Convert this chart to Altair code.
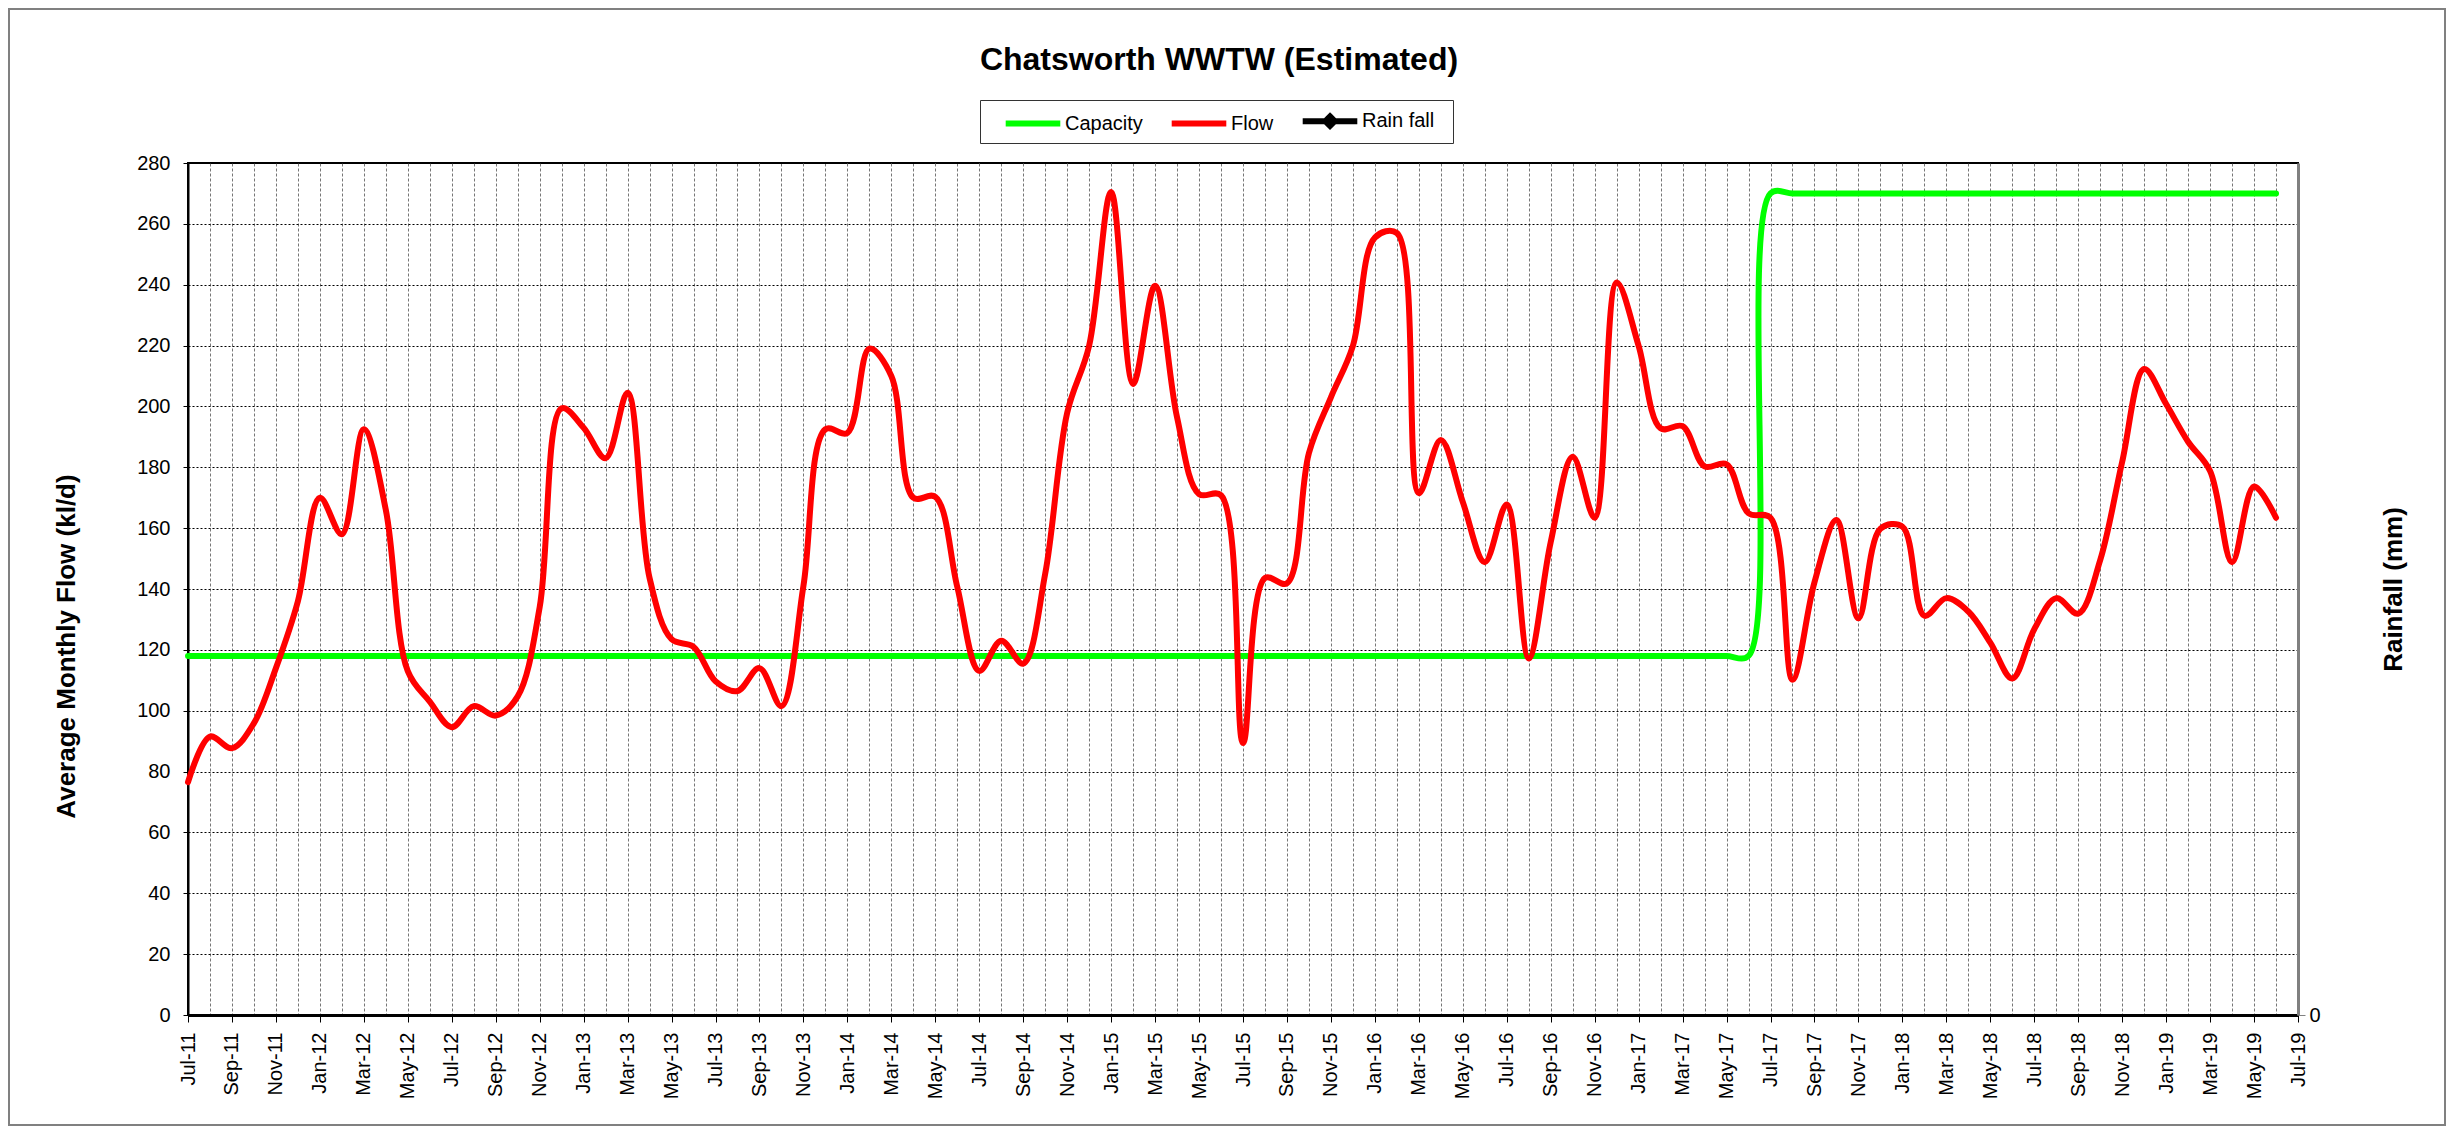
import json
import altair as alt
import pandas as pd

FONT = "Liberation Sans"

month_labels = [
    "Jul-11", "Aug-11", "Sep-11", "Oct-11", "Nov-11", "Dec-11",
    "Jan-12", "Feb-12", "Mar-12", "Apr-12", "May-12", "Jun-12", "Jul-12", "Aug-12", "Sep-12", "Oct-12", "Nov-12", "Dec-12",
    "Jan-13", "Feb-13", "Mar-13", "Apr-13", "May-13", "Jun-13", "Jul-13", "Aug-13", "Sep-13", "Oct-13", "Nov-13", "Dec-13",
    "Jan-14", "Feb-14", "Mar-14", "Apr-14", "May-14", "Jun-14", "Jul-14", "Aug-14", "Sep-14", "Oct-14", "Nov-14", "Dec-14",
    "Jan-15", "Feb-15", "Mar-15", "Apr-15", "May-15", "Jun-15", "Jul-15", "Aug-15", "Sep-15", "Oct-15", "Nov-15", "Dec-15",
    "Jan-16", "Feb-16", "Mar-16", "Apr-16", "May-16", "Jun-16", "Jul-16", "Aug-16", "Sep-16", "Oct-16", "Nov-16", "Dec-16",
    "Jan-17", "Feb-17", "Mar-17", "Apr-17", "May-17", "Jun-17", "Jul-17", "Aug-17", "Sep-17", "Oct-17", "Nov-17", "Dec-17",
    "Jan-18", "Feb-18", "Mar-18", "Apr-18", "May-18", "Jun-18", "Jul-18", "Aug-18", "Sep-18", "Oct-18", "Nov-18", "Dec-18",
    "Jan-19", "Feb-19", "Mar-19", "Apr-19", "May-19", "Jun-19", "Jul-19",
]

# Monthly values, Jul-11 .. Jun-19 (one row per Jul..Jun year)
flow = [
    76.5, 91.5, 87.7, 95.9, 114, 136, 170, 158, 192.5, 166, 113, 103,
    94.6, 101.5, 98.4, 104.7, 134, 199.4, 193, 183, 204.5, 143.6, 123.5, 121,
    109.7, 106.5, 114, 101.5, 141, 192.5, 191.3, 219, 210, 170, 170.3, 140.7,
    113.1, 123, 115.5, 145, 197.9, 220, 270.5, 207.4, 239.7, 196.4, 171.2, 170.8,
    89.4, 143.6, 141.9, 184.7, 203, 219.9, 255.5, 257, 171.5, 189, 168.6, 148.8,
    167.8, 117.2, 155.4, 183.5, 163.4, 240.7, 219.9, 192.8, 193.5, 180.3, 181, 164.9,
    163.4, 110.2, 142.2, 162.7, 130.4, 159.8, 160.5, 131.2, 137, 132.6, 122.4, 110.6,
    126.8, 137, 131.9, 149.5, 181.8, 212.3, 200.8, 188.4, 178.8, 148.8, 173.7, 163.4,
]

capacity = [
    118, 118, 118, 118, 118, 118, 118, 118, 118, 118, 118, 118,
    118, 118, 118, 118, 118, 118, 118, 118, 118, 118, 118, 118,
    118, 118, 118, 118, 118, 118, 118, 118, 118, 118, 118, 118,
    118, 118, 118, 118, 118, 118, 118, 118, 118, 118, 118, 118,
    118, 118, 118, 118, 118, 118, 118, 118, 118, 118, 118, 118,
    118, 118, 118, 118, 118, 118, 118, 118, 118, 118, 118, 118,
    270, 270, 270, 270, 270, 270, 270, 270, 270, 270, 270, 270,
    270, 270, 270, 270, 270, 270, 270, 270, 270, 270, 270, 270,
]

series_names = ["Capacity", "Flow", "Rain fall"]
series_colors = ["#00FF00", "#FF0000", "#000000"]
series_widths = [6, 6, 2]
LINE_SYM = "M-2.1,0H2.1"
DIAMOND_SYM = "M-2.1,0H2.1M0,-0.36L0.36,0L0,0.36L-0.36,0Z"
series_symbols = [LINE_SYM, LINE_SYM, DIAMOND_SYM]
y_ticks = [0, 20, 40, 60, 80, 100, 120, 140, 160, 180, 200, 220, 240, 260, 280]
rain_ticks = [0]

rows = []
for k, v in enumerate(capacity):
    rows.append({"k": k, "month": month_labels[k], "series": "Capacity", "value": v})
for k, v in enumerate(flow):
    rows.append({"k": k, "month": month_labels[k], "series": "Flow", "value": v})
df = pd.DataFrame(rows)

n_months = len(month_labels) - 1
label_expr = "datum.value % 2 == 0 ? " + json.dumps(month_labels) + "[datum.value] : ''"

W, H = 2110, 852

x_enc = alt.X(
    "k:Q",
    scale=alt.Scale(domain=[0, n_months], nice=False, zero=False),
    axis=alt.Axis(
        values=list(range(n_months + 1)),
        labelExpr=label_expr,
        labelAngle=270,
        labelFontSize=20,
        labelFont=FONT,
        labelColor="black",
        labelPadding=10,
        labelOverlap=False,
        labelFlush=False,
        labelBound=False,
        tickSize=7,
        tickColor="black",
        tickOpacity={"condition": {"test": "datum.value % 2 == 0", "value": 1}, "value": 0},
        grid=True,
        gridColor="#777777",
        gridDash=[3, 2],
        gridWidth=1,
        domainColor="black",
        domainWidth=3,
        title=None,
    ),
)

legend_cfg = alt.Legend(
    title="\u00a0",
    titleOrient="right",
    titlePadding=14,
    titleFontSize=20,
    titleFont=FONT,
    orient="none",
    legendX=792,
    legendY=-63,
    direction="horizontal",
    strokeColor="#333333",
    fillColor="white",
    padding=5,
    symbolSize=676,
    symbolOffset=32,
    labelOffset=16,
    labelFontSize=20,
    labelFont=FONT,
    labelColor="black",
    columnPadding=8,
    symbolOpacity=1,
)

lines = alt.Chart(df).mark_line(
    interpolate="catmull-rom", strokeCap="round", strokeJoin="round"
).encode(
    x=x_enc,
    y=alt.Y(
        "value:Q",
        scale=alt.Scale(domain=[0, 280], nice=False),
        axis=alt.Axis(
            values=y_ticks,
            title="Average Monthly Flow (kl/d)",
            titleFontSize=26,
            titleFont=FONT,
            titleFontWeight="bold",
            titleColor="black",
            titlePadding=57,
            titleY=483,
            labelFontSize=20,
            labelFont=FONT,
            labelColor="black",
            labelPadding=13,
            tickSize=5,
            tickColor="black",
            grid=True,
            gridColor="black",
            gridDash=[2, 2],
            gridWidth=1,
            domainColor="black",
            domainWidth=2,
        ),
    ),
    color=alt.Color("series:N", scale=alt.Scale(domain=series_names, range=series_colors), legend=legend_cfg),
    strokeWidth=alt.StrokeWidth("series:N", scale=alt.Scale(domain=series_names, range=series_widths), legend=legend_cfg),
    order=alt.Order("k:Q"),
)

# carries only the legend symbols (the rainfall series has no readings)
legend_marks = alt.Chart(pd.DataFrame({"series": []})).mark_point(filled=False, opacity=1).encode(
    color=alt.Color("series:N", scale=alt.Scale(domain=series_names, range=series_colors), legend=legend_cfg),
    shape=alt.Shape("series:N", scale=alt.Scale(domain=series_names, range=series_symbols), legend=legend_cfg),
)

rain_axis = alt.Chart(pd.DataFrame({"rain": rain_ticks})).mark_rule(opacity=0).encode(
    y=alt.Y(
        "rain:Q",
        scale=alt.Scale(domain=[0, 1], nice=False),
        axis=alt.Axis(
            orient="right",
            values=rain_ticks,
            title="Rainfall (mm)",
            titleAngle=270,
            titleFontSize=26,
            titleFont=FONT,
            titleFontWeight="bold",
            titleColor="black",
            titlePadding=86,
            labelFontSize=20,
            labelFont=FONT,
            labelColor="black",
            labelPadding=4,
            tickSize=7,
            tickColor="#808080",
            grid=False,
            domainColor="#808080",
            domainWidth=3,
        ),
    )
)

border = alt.Chart(pd.DataFrame({"b": [0]})).mark_rect(
    fill="transparent", stroke="#808080", strokeWidth=2
).encode(
    x=alt.value(-179), x2=alt.value(2257), y=alt.value(-154), y2=alt.value(962)
)

chart = alt.layer(border, lines, legend_marks, rain_axis).resolve_scale(y="independent").properties(
    width=W,
    height=H,
    padding={"left": 180, "top": 155, "right": 152, "bottom": 111},
    autosize=alt.AutoSizeParams(type="none"),
    title=alt.Title(
        "Chatsworth WWTW (Estimated)",
        fontSize=32,
        font=FONT,
        fontWeight="bold",
        color="black",
        anchor="middle",
        baseline="alphabetic",
        dx=-24,
        dy=94,
        offset=0,
    ),
    background="white",
).configure_view(stroke="black", strokeWidth=2)

chart.save("out.html", embed_options={"renderer": "svg", "actions": False})
